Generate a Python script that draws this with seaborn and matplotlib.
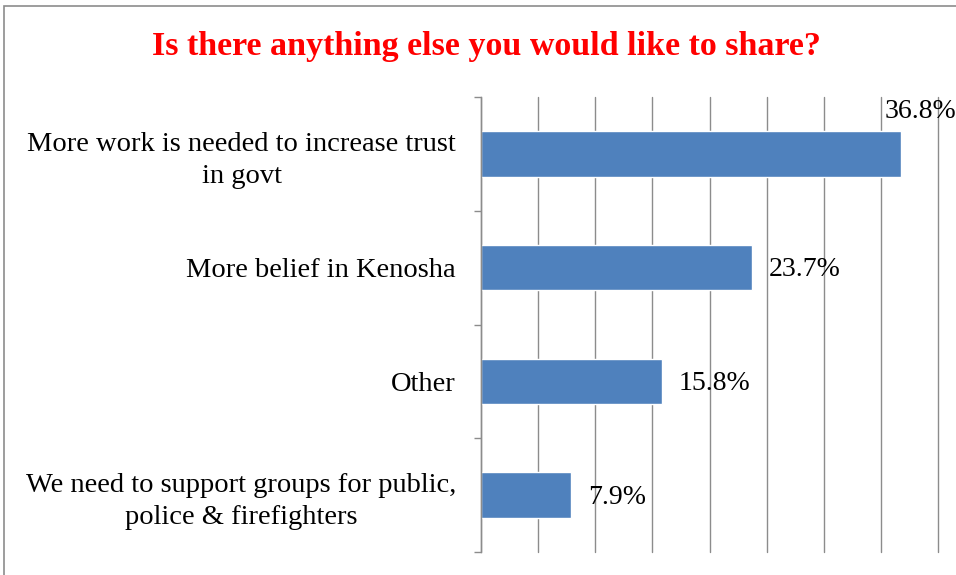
import pandas as pd
import matplotlib.pyplot as plt
import seaborn as sns
from matplotlib.patches import Rectangle
from matplotlib.ticker import MultipleLocator

# ==============================
# data
# ==============================
categories = [
    "More work is needed to increase trust\nin govt",
    "More belief in Kenosha",
    "Other",
    "We need to support groups for public,\npolice & firefighters",
]
values = [36.8, 23.7, 15.8, 7.9]
value_labels = ["36.8%", "23.7%", "15.8%", "7.9%"]

df = pd.DataFrame({"category": categories, "value": values})

sns.set_theme(style="white")
plt.rcParams["font.family"] = ["Liberation Serif", "DejaVu Serif"]

fig = plt.figure(figsize=(9.56, 5.75), dpi=100)
ax = fig.add_axes([481 / 956, 1 - 552 / 575, (938 - 481) / 956, (552 - 97) / 575])

sns.barplot(data=df, x="value", y="category", orient="h", color="#4F81BD",
            width=0.4, saturation=1, ax=ax)

ax.set_xlim(0, 40)
ax.set_ylim(3.5, -0.5)
ax.xaxis.set_major_locator(MultipleLocator(5))
ax.grid(axis="x", color="#8c8c8c", linewidth=1.0)
ax.set_axisbelow(True)
for gl in ax.get_xgridlines():
    gl.set_clip_on(False)
ax.set_xticklabels([])
ax.tick_params(axis="x", length=0)
ax.set_xlabel("")
ax.set_ylabel("")

for side in ["top", "right", "bottom"]:
    ax.spines[side].set_visible(False)
ax.spines["left"].set_color("#8c8c8c")
ax.spines["left"].set_linewidth(1.0)

# category ticks: labels at centres, tick marks at boundaries
ax.set_yticks(range(len(categories)))
ax.set_yticklabels(categories)
ax.set_yticks([i - 0.5 for i in range(len(categories) + 1)], minor=True)
ax.tick_params(axis="y", which="major", length=0, pad=18, labelsize=20.5, labelcolor="black")
ax.tick_params(axis="y", which="minor", length=5, width=1.0, color="#8c8c8c", left=True)
for lab in ax.get_yticklabels():
    lab.set_multialignment("center")
    lab.set_linespacing(1.35)

# value labels
for i, (v, txt) in enumerate(zip(values, value_labels)):
    if i == 0:
        ax.annotate(txt, xy=(v, i), xytext=(-17, 42), textcoords="offset pixels",
                    ha="left", va="center", fontsize=20, color="black",
                    annotation_clip=False)
    else:
        ax.annotate(txt, xy=(v, i), xytext=(17, -2), textcoords="offset pixels",
                    ha="left", va="center", fontsize=20, color="black")

fig.text(486 / 956, 1 - 46 / 575, "Is there anything else you would like to share?",
         ha="center", va="center", fontsize=24.5, fontweight="bold", color="#FF0000")

# chart border (runs off the right/bottom edge)
fig.patches.append(Rectangle((4 / 956, -0.1), 1.2, (1 - 6 / 575) + 0.1,
                             transform=fig.transFigure, fill=False,
                             edgecolor="#8c8c8c", linewidth=1.2))

fig.savefig("out.png", dpi=100)
